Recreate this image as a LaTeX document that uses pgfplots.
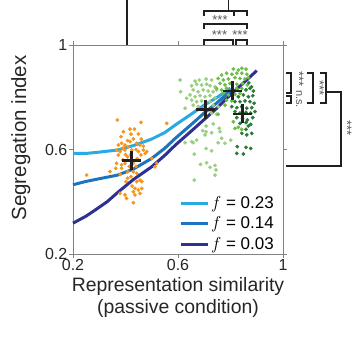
\documentclass[border=0pt]{standalone}
\usepackage{pgfplots}
\pgfplotsset{compat=1.18}
\usepackage{fontspec}
\setmainfont{Liberation Sans}
\definecolor{orng}{HTML}{F7941D}
\definecolor{lgreen}{HTML}{9CCE80}
\definecolor{mgreen}{HTML}{6CBE45}
\definecolor{dgreen}{HTML}{2A7B3A}
\definecolor{lblue}{HTML}{29ABE2}
\definecolor{mblue}{HTML}{1C75BC}
\definecolor{navy}{HTML}{2E3192}
\definecolor{axisgray}{HTML}{808285}
\definecolor{brk}{HTML}{231F20}
\definecolor{stargray}{HTML}{58595B}
\begin{document}
\begin{tikzpicture}[x=1pt,y=1pt]
\useasboundingbox (0,0) rectangle (352,339);
\begin{axis}[
  at={(73pt,85pt)}, anchor=south west,
  scale only axis, width=210pt, height=209pt,
  xmin=0.2, xmax=1, ymin=0.2, ymax=1,
  xtick={0.2,0.6,1}, ytick={0.2,0.6,1},
  tick align=outside, major tick length=4pt,
  axis line style={draw=axisgray, line width=0.9pt},
  tick style={draw=axisgray, line width=0.9pt},
  /pgf/number format/assume math mode=true,
  ticklabel style={font=\fontsize{16}{16}\selectfont, text=black!85},
  xticklabel style={inner sep=1pt},
  yticklabel style={inner sep=1.5pt},
  xlabel={Representation similarity\\(passive condition)},
  xlabel style={align=center, font=\fontsize{19.4}{22}\selectfont, text=black!85, yshift=-2pt},
  ylabel={Segregation index},
  ylabel style={font=\fontsize{20.5}{22}\selectfont, text=black!85},
  every axis y label/.append style={at={(axis description cs:-0.248,0.555)}, anchor=center, rotate=0},
  legend style={at={(axis description cs:0.5,0.0)}, anchor=south west, draw=none, fill=none,
    font=\fontsize{17}{17}\selectfont, row sep=3pt, inner sep=1pt},
  legend cell align=left,
  legend image code/.code={\draw[#1, line width=3pt] (0pt,0pt) -- (27pt,0pt);},
  clip=false,
]
% orange
\addplot[only marks, mark=*, mark size=1.7pt, color=orng, forget plot] coordinates {
(0.369,0.713) (0.459,0.704) (0.557,0.700) (0.417,0.678) (0.434,0.678) (0.392,0.668)
(0.421,0.659) (0.383,0.649) (0.449,0.659) (0.408,0.634) (0.417,0.630) (0.373,0.617)
(0.385,0.624) (0.398,0.617) (0.443,0.624) (0.455,0.617) (0.468,0.613) (0.366,0.598)
(0.379,0.592) (0.398,0.598) (0.424,0.598) (0.449,0.592) (0.468,0.598) (0.481,0.592)
(0.373,0.579) (0.408,0.572) (0.459,0.579) (0.475,0.585) (0.500,0.566) (0.366,0.547)
(0.385,0.541) (0.398,0.547) (0.430,0.547) (0.363,0.528) (0.385,0.528) (0.512,0.534)
(0.519,0.547) (0.252,0.502) (0.341,0.515) (0.408,0.515) (0.430,0.515) (0.443,0.509)
(0.408,0.490) (0.421,0.496) (0.455,0.483) (0.402,0.477) (0.443,0.477) (0.462,0.477)
(0.436,0.451) (0.449,0.445) (0.462,0.451) (0.430,0.438) (0.455,0.432) (0.398,0.426)
(0.436,0.426) (0.404,0.413) (0.430,0.396) (0.379,0.432) (0.390,0.605) (0.410,0.610)
(0.430,0.640) (0.440,0.600) (0.460,0.640) (0.400,0.580) (0.420,0.580) (0.445,0.565)
(0.390,0.560) (0.415,0.535) (0.440,0.535) (0.380,0.505) (0.425,0.460)
};
% light green
\addplot[only marks, mark=*, mark size=1.7pt, color=lgreen, forget plot] coordinates {
(0.608,0.866) (0.665,0.862) (0.681,0.866) (0.707,0.870) (0.728,0.866)
(0.652,0.844) (0.671,0.850) (0.690,0.847) (0.709,0.850) (0.722,0.844) (0.741,0.840)
(0.610,0.821) (0.658,0.828) (0.677,0.821) (0.696,0.828) (0.715,0.824) (0.734,0.821) (0.747,0.828)
(0.646,0.809) (0.665,0.802) (0.684,0.806) (0.703,0.802) (0.722,0.806) (0.741,0.798)
(0.633,0.796) (0.652,0.789) (0.671,0.783) (0.690,0.786) (0.722,0.783)
(0.627,0.758) (0.658,0.770) (0.677,0.764) (0.734,0.770) (0.753,0.764) (0.722,0.751)
(0.728,0.739) (0.747,0.735)
(0.707,0.690) (0.734,0.698) (0.694,0.672) (0.707,0.668) (0.703,0.656) (0.728,0.664) (0.757,0.681) (0.760,0.668)
(0.627,0.626) (0.652,0.630) (0.658,0.626) (0.671,0.636)
(0.766,0.643) (0.753,0.626) (0.779,0.624) (0.801,0.636)
(0.707,0.604) (0.728,0.595) (0.662,0.582) (0.686,0.543) (0.709,0.549) (0.741,0.539)
(0.722,0.532) (0.745,0.522) (0.741,0.502) (0.662,0.483)
};
% middle green
\addplot[only marks, mark=*, mark size=1.7pt, color=mgreen, forget plot] coordinates {
(0.811,0.908) (0.830,0.904) (0.843,0.911) (0.859,0.908)
(0.766,0.885) (0.785,0.892) (0.805,0.888) (0.824,0.892) (0.843,0.892) (0.862,0.888)
(0.753,0.872) (0.773,0.866) (0.792,0.870) (0.817,0.875) (0.836,0.872) (0.855,0.870) (0.868,0.875)
(0.760,0.853) (0.779,0.847) (0.798,0.853) (0.824,0.850) (0.846,0.853) (0.864,0.847)
(0.747,0.834) (0.766,0.828) (0.785,0.834) (0.824,0.834) (0.843,0.834)
(0.773,0.815) (0.792,0.809) (0.817,0.811) (0.836,0.815)
(0.785,0.789) (0.805,0.786) (0.779,0.770) (0.753,0.735)
(0.811,0.706) (0.817,0.681) (0.830,0.685) (0.843,0.677)
};
% dark green
\addplot[only marks, mark=*, mark size=1.7pt, color=dgreen, forget plot] coordinates {
(0.859,0.828) (0.874,0.834) (0.887,0.824) (0.870,0.855) (0.880,0.840)
(0.830,0.802) (0.849,0.809) (0.868,0.802) (0.885,0.806)
(0.817,0.783) (0.836,0.783) (0.855,0.786) (0.874,0.783) (0.890,0.777)
(0.805,0.764) (0.824,0.760) (0.843,0.764) (0.862,0.758) (0.881,0.760)
(0.817,0.745) (0.836,0.739) (0.859,0.742) (0.877,0.739) (0.893,0.745)
(0.824,0.722) (0.846,0.719) (0.864,0.713) (0.885,0.722)
(0.836,0.700) (0.859,0.703) (0.877,0.696)
(0.868,0.690) (0.843,0.662) (0.862,0.656) (0.881,0.662) (0.859,0.677)
(0.826,0.611) (0.859,0.608) (0.877,0.604)
(0.824,0.585) (0.849,0.583)
};
% model curves
\addplot[color=lblue, line width=3pt] coordinates {
(0.2,0.585) (0.25,0.585) (0.3,0.590) (0.37,0.598) (0.43,0.615) (0.5,0.640)
(0.55,0.665) (0.59,0.694) (0.65,0.735) (0.70,0.770) (0.75,0.800) (0.80,0.835)
};
\addlegendentry{$f$ = 0.23}
\addplot[color=mblue, line width=3pt] coordinates {
(0.2,0.465) (0.25,0.478) (0.3,0.488) (0.37,0.502) (0.43,0.525) (0.5,0.566)
(0.55,0.605) (0.59,0.643) (0.65,0.695) (0.70,0.740) (0.75,0.780) (0.80,0.825)
};
\addlegendentry{$f$ = 0.14}
\addplot[color=navy, line width=3pt] coordinates {
(0.2,0.318) (0.25,0.345) (0.284,0.368) (0.33,0.400) (0.373,0.438) (0.43,0.485)
(0.5,0.534) (0.55,0.578) (0.59,0.617) (0.65,0.670) (0.70,0.715) (0.75,0.760)
(0.80,0.810) (0.85,0.855) (0.90,0.902)
};
\addlegendentry{$f$ = 0.03}
% means
\addplot[only marks, mark=+, mark size=9.5pt, mark options={line width=2.8pt}, color=brk, forget plot] coordinates {
(0.424,0.557) (0.705,0.754) (0.808,0.824) (0.846,0.736)
};
\end{axis}
\begin{scope}[shift={(0pt,339pt)}, y=-1pt, line width=1.5pt, draw=brk]
\tikzset{st/.style={font=\fontsize{13}{13}\selectfont, text=stargray, inner sep=0pt}}
% top dendrogram
\draw (127,-5) -- (127,45);
\draw (228.5,-5) -- (228.5,11);
\draw (204,16) -- (204,11) -- (247,11) -- (247,16);
\draw (234,11) -- (234,16);
\draw (204,29) -- (204,24) -- (247,24) -- (247,29);
\draw (204,45) -- (204,40) -- (233,40) -- (233,45);
\draw (236,45) -- (236,40) -- (247,40) -- (247,45);
\node[st] at (220,20) {***};
\node[st] at (219.5,35) {***};
\node[st] at (240,35) {***};
% right dendrogram
\draw (286,73) -- (291,73) -- (291,93) -- (286,93);
\draw (286,96) -- (291,96) -- (291,103) -- (286,103);
\draw (307,73) -- (313,73) -- (313,103) -- (307,103);
\draw (320,73) -- (326,73) -- (326,103) -- (320,103);
\draw (326,92) -- (341,92) -- (341,166) -- (286,166);
\node[st, rotate=-90] at (299,79) {***};
\node[st, rotate=-90, font=\fontsize{11}{11}\selectfont] at (299,99) {n.s.};
\node[st, rotate=-90] at (319.5,88) {***};
\node[st, rotate=-90] at (347,128) {***};
\end{scope}
\end{tikzpicture}
\end{document}
